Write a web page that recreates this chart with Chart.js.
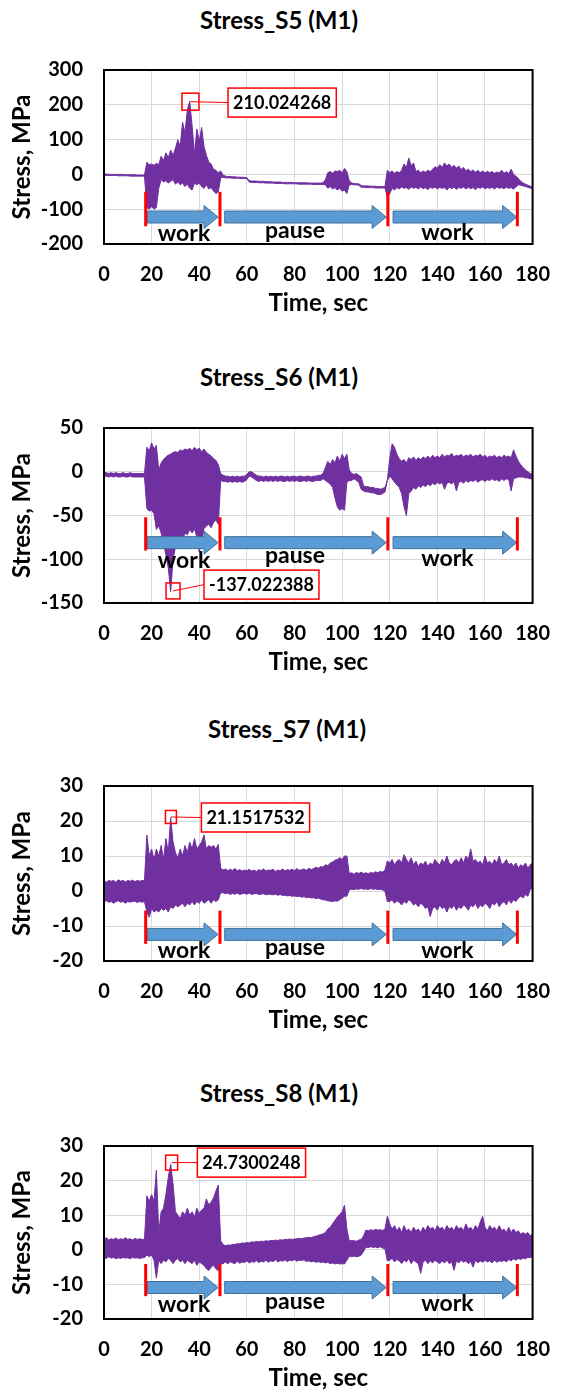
<!DOCTYPE html>
<html>
<head>
<meta charset="utf-8">
<title>Stress S5-S8 (M1)</title>
<script src="https://cdn.jsdelivr.net/npm/chart.js@4.4.0/dist/chart.umd.min.js"></script>
<style>
  html, body { margin: 0; padding: 0; background: #fff; }
  body { width: 569px; height: 1398px; position: relative; overflow: hidden; }
  canvas { position: absolute; left: 0; }
  .ttl { position: absolute; font: bold 24px Lato, sans-serif; color: #000;
         line-height: 1; white-space: nowrap; transform: translate(-50%, -50%); }
</style>
</head>
<body>
<div class="ttl" id="t1">Stress_S5 (M1)</div>
<div class="ttl" id="t2">Stress_S6 (M1)</div>
<div class="ttl" id="t3">Stress_S7 (M1)</div>
<div class="ttl" id="t4">Stress_S8 (M1)</div>
<canvas id="c1"></canvas>
<canvas id="c2"></canvas>
<canvas id="c3"></canvas>
<canvas id="c4"></canvas>
<script>
// sample times (sec), one per envelope value
const TIME = [
  0, 1, 2, 3, 4, 5, 6, 7, 8, 9,
  10, 11, 12, 13, 14, 15, 16, 17, 18, 19,
  20, 21, 22, 23, 24, 25, 26, 27, 28, 29,
  30, 31, 32, 33, 34, 35, 36, 37, 38, 39,
  40, 41, 42, 43, 44, 45, 46, 47, 48, 49,
  50, 51, 52, 53, 54, 55, 56, 57, 58, 59,
  60, 61, 62, 63, 64, 65, 66, 67, 68, 69,
  70, 71, 72, 73, 74, 75, 76, 77, 78, 79,
  80, 81, 82, 83, 84, 85, 86, 87, 88, 89,
  90, 91, 92, 93, 94, 95, 96, 97, 98, 99,
  100, 101, 102, 103, 104, 105, 106, 107, 108, 109,
  110, 111, 112, 113, 114, 115, 116, 117, 118, 119,
  120, 121, 122, 123, 124, 125, 126, 127, 128, 129,
  130, 131, 132, 133, 134, 135, 136, 137, 138, 139,
  140, 141, 142, 143, 144, 145, 146, 147, 148, 149,
  150, 151, 152, 153, 154, 155, 156, 157, 158, 159,
  160, 161, 162, 163, 164, 165, 166, 167, 168, 169,
  170, 171, 172, 173, 174, 175, 176, 177, 178, 179,
  180
];

// Stress_S5: upper / lower envelope of the signal, MPa
const S5_UPPER = [
  1, 1, 0, 0, 0, 0, 0, 0, 0, -1,
  -1, -1, -1, -1, -2, -2, -2, -2, 35, 28,
  30, 26, 32, 28, 52, 40, 62, 48, 70, 55,
  75, 100, 80, 150, 120, 185, 210, 140, 60, 130,
  95, 135, 80, 55, 35, 30, 15, 12, 5, 10,
  -2, -5, -6, -6, -7, -7, -8, -8, -8, -9,
  -9, -18, -19, -19, -19, -20, -20, -20, -21, -21,
  -21, -22, -22, -22, -22, -23, -23, -23, -23, -23,
  -24, -24, -24, -24, -24, -24, -25, -25, -25, -25,
  -25, -25, -24, -15, 5, 8, 3, 10, 8, 12,
  5, 17, 8, -18, -25, -26, -27, -27, -32, -33,
  -33, -33, -34, -34, -34, -35, -35, -35, -35, 12,
  5, 10, 3, 8, 5, 12, 30, 20, 47, 25,
  33, 8, 12, 5, 10, 6, 12, 8, 15, 22,
  18, 28, 20, 33, 24, 30, 20, 26, 18, 24,
  14, 20, 10, 15, 8, 13, 6, 12, 5, 10,
  4, 9, 5, 8, 3, 7, 4, 12, 3, 8,
  2, 15, 0, -5, -12, -20, -25, -28, -31, -34,
  -36
];
const S5_LOWER = [
  -3, -3, -3, -3, -3, -3, -4, -4, -4, -4,
  -4, -5, -5, -5, -5, -5, -5, -5, -95, -100,
  -92, -100, -95, -40, -15, -22, -18, -25, -20, -15,
  -28, -22, -30, -25, -35, -28, -40, -45, -25, -30,
  -25, -35, -40, -30, -42, -38, -48, -55, -50, -10,
  -8, -10, -10, -10, -11, -11, -11, -12, -12, -12,
  -12, -22, -23, -23, -23, -24, -24, -24, -25, -25,
  -25, -25, -26, -26, -26, -26, -27, -27, -27, -27,
  -27, -27, -28, -28, -28, -28, -28, -28, -29, -29,
  -29, -29, -29, -30, -40, -35, -42, -38, -45, -40,
  -48, -45, -55, -30, -29, -30, -30, -31, -37, -37,
  -38, -38, -38, -38, -39, -39, -39, -39, -39, -65,
  -55, -40, -45, -38, -42, -36, -40, -38, -43, -36,
  -40, -37, -42, -36, -41, -38, -44, -37, -40, -36,
  -42, -37, -40, -38, -45, -37, -41, -36, -43, -38,
  -40, -36, -42, -37, -41, -38, -44, -37, -40, -36,
  -41, -38, -40, -37, -42, -36, -40, -38, -41, -37,
  -40, -38, -42, -36, -30, -31, -33, -35, -37, -39,
  -42
];

// Stress_S6
const S6_UPPER = [
  -1, -1, -2, -1, -2, -1, -2, -2, -1, -2,
  -2, -1, -2, -2, -2, -2, -2, -2, 28, 24,
  33, 26, 30, 2, 10, 14, 17, 19, 20, 22,
  23, 22, 25, 24, 26, 25, 27, 24, 28, 25,
  27, 23, 26, 22, 20, 18, 15, 13, 8, -2,
  -4, -5, -5, -6, -5, -6, -5, -6, -5, -5,
  -3, 0, 0, -2, -4, -5, -5, -6, -5, -6,
  -5, -6, -5, -6, -5, -5, -6, -5, -6, -5,
  -5, -6, -5, -5, -6, -5, -5, -6, -5, -5,
  -4, -4, -2, 5, 12, 8, 14, 10, 18, 12,
  20, 15, 20, 2, -2, -3, -2, -4, -6, -16,
  -17, -17, -18, -18, -19, -19, -20, -19, -18, -10,
  15, 32, 28, 20, 15, 12, 14, 10, 16, 14,
  17, 13, 16, 14, 17, 15, 18, 15, 19, 16,
  18, 16, 20, 17, 19, 18, 21, 17, 19, 18,
  20, 17, 19, 18, 20, 17, 19, 18, 20, 17,
  19, 16, 18, 17, 19, 16, 18, 16, 19, 17,
  18, 16, 25, 18, 12, 8, 5, 2, 0, -2,
  -3
];
const S6_LOWER = [
  -5, -5, -6, -5, -6, -5, -6, -6, -5, -6,
  -6, -5, -6, -6, -6, -6, -6, -6, -42, -45,
  -44, -48, -66, -62, -70, -82, -95, -110, -137, -100,
  -86, -80, -75, -78, -70, -72, -66, -70, -65, -75,
  -92, -80, -65, -62, -60, -64, -58, -55, -60, -10,
  -11, -11, -12, -11, -12, -11, -12, -11, -12, -11,
  -9, -5, -6, -8, -10, -11, -10, -11, -10, -11,
  -10, -11, -10, -11, -10, -11, -11, -10, -11, -10,
  -11, -10, -11, -11, -10, -11, -10, -11, -11, -10,
  -10, -10, -8, -10, -12, -14, -18, -30, -40, -44,
  -42, -44, -12, -10, -10, -8, -10, -12, -20, -22,
  -23, -23, -24, -24, -25, -26, -26, -25, -23, -10,
  -5, -8, -12, -15, -18, -25, -40, -50, -25, -22,
  -18, -20, -16, -18, -15, -17, -14, -16, -13, -15,
  -12, -14, -12, -20, -13, -12, -14, -11, -22, -12,
  -11, -13, -10, -12, -10, -11, -9, -12, -10, -9,
  -11, -9, -10, -8, -10, -9, -11, -8, -10, -8,
  -9, -22, -8, -7, -6, -6, -6, -7, -7, -8,
  -8
];

// Stress_S7
const S7_UPPER = [
  3, 2.5, 3, 2.8, 3, 2.5, 3.2, 2.8, 3, 2.6,
  3, 2.8, 3.1, 2.7, 3, 2.8, 3, 2.9, 16, 10,
  12, 9, 12, 10, 13, 9, 15, 11, 21, 14,
  11, 9.5, 12, 10, 13, 11, 14, 12, 15, 12,
  13, 14, 16, 12, 13, 12.5, 13, 12, 13.3, 6.5,
  6, 6.3, 5.8, 6.2, 5.9, 6.4, 5.8, 6.1, 5.7, 6,
  5.8, 6.2, 5.7, 6, 5.6, 6.1, 5.8, 6.3, 5.7, 6,
  5.9, 6.2, 5.6, 6, 5.8, 6.3, 5.7, 6.1, 5.9, 6.2,
  5.8, 6.4, 5.9, 6.1, 6.3, 5.9, 6.5, 6.1, 6.4, 6.8,
  6.5, 7, 6.8, 7.5, 7.2, 8, 8.3, 8.8, 9, 9.5,
  9, 10, 10, 5, 5.2, 4.8, 5.3, 5, 5.4, 5,
  5.2, 4.9, 5.3, 5.1, 5.5, 5.2, 5.6, 5.4, 6, 8.6,
  8, 9, 7.5, 8.5, 9, 8, 10.4, 9, 8, 9.5,
  7.5, 8.5, 7, 8, 7.5, 8.5, 7, 8, 7.5, 9,
  8, 7.5, 9, 8, 10, 8, 7.5, 8.5, 9, 8,
  9.5, 8, 10, 9, 12, 8.5, 9, 8, 8.5, 7.5,
  10, 8, 8.5, 7.5, 9, 8, 10, 7.5, 8, 9,
  7.5, 8, 7, 8, 6.5, 7.5, 7, 8, 6.5, 7.5,
  8
];
const S7_LOWER = [
  -3, -2.8, -3.2, -3, -3.5, -3, -2.8, -3.2, -3, -3.5,
  -3, -3.2, -3, -2.9, -3.3, -3, -3.2, -3, -6, -7.5,
  -5, -6, -5.5, -6, -5, -5.5, -5, -6, -4.5, -5,
  -4, -4.5, -4, -3.5, -4.5, -3.5, -4, -3, -4, -3,
  -3.5, -2.5, -3.5, -3, -2.5, -3.5, -2.5, -3, -2.5, -0.5,
  -0.5, -0.8, -0.6, -1, -0.7, -0.9, -0.6, -1, -0.8, -0.7,
  -0.9, -0.6, -1, -0.8, -0.7, -1, -0.9, -0.8, -1.1, -0.9,
  -1, -1.1, -0.9, -1.2, -1, -1.3, -1.2, -1.4, -1.3, -1.5,
  -1.4, -1.6, -1.5, -1.8, -1.6, -1.9, -1.8, -2, -1.9, -2.2,
  -2, -2.3, -2.5, -2.6, -2.8, -2.9, -3, -2.8, -2.9, -2.5,
  -2, -1.5, -1.5, 0.3, 0.5, 0.4, 0.6, 0.5, 0.7, 0.5,
  0.6, 0.4, 0.7, 0.5, 0.6, 0.4, 0.5, 0.3, 0, -3,
  -3, -2.5, -3.5, -2.8, -3.2, -4, -3, -3.5, -2.5, -3,
  -4, -3.5, -4.5, -3.5, -4, -5, -4.5, -7.3, -5, -4.5,
  -5.5, -4, -5, -4.5, -6, -4.5, -5, -4, -5.5, -4.5,
  -5, -4, -4.5, -5.5, -4, -4.5, -3.5, -5, -4, -4.5,
  -3.5, -4, -5, -3.5, -4, -3, -4.5, -3.5, -3, -4,
  -2.5, -3.5, -2.5, -3, -2, -1.5, -2, -1, -1.5, 0.5,
  0.8
];

// Stress_S8
const S8_UPPER = [
  3, 3.5, 2.8, 3.2, 3, 3.4, 2.9, 3.2, 3, 3.5,
  3, 3.2, 2.8, 3.3, 3, 3.2, 3, 3, 15.6, 14,
  16, 14, 23, 4.8, 11, 12, 16, 21, 24.7, 19,
  11, 10, 9, 11, 10, 12, 10, 11, 9.5, 12,
  10.5, 11.5, 12, 14.7, 13, 13.8, 15, 17, 18.7, 2.6,
  1.5, 1.2, 1.4, 1.3, 1.6, 1.5, 1.8, 1.7, 2, 1.9,
  2.1, 2, 2.3, 2.2, 2.4, 2.3, 2.5, 2.4, 2.6, 2.5,
  2.7, 2.6, 2.8, 2.7, 2.9, 2.8, 3, 3, 3.1, 3,
  3.1, 3.2, 3.3, 3.2, 3.4, 3.5, 3.6, 3.5, 3.8, 3.9,
  4.2, 4.4, 4.6, 5, 6, 6.5, 7.5, 8.5, 9.5, 10.2,
  11, 12.9, 6, 2.6, 2.7, 2.6, 2.5, 2.8, 3, 4,
  5.7, 5.5, 5.8, 5.6, 5.9, 5.7, 5.8, 5.6, 6, 9.7,
  7.5, 6, 7, 5.5, 6.5, 5, 7, 5.5, 6, 5,
  6.5, 5.5, 6, 5, 6.5, 5.5, 7, 6, 6.5, 5.5,
  7, 6, 6.5, 5.5, 7, 6, 6.5, 5.5, 7, 6,
  6.5, 5.5, 7.5, 6, 6.5, 5.5, 7, 6, 8, 9.7,
  6.5, 5.5, 7, 6, 6.5, 5.5, 7, 5.5, 6, 5,
  6.5, 5, 6, 5, 5.5, 4.5, 5, 4.5, 5, 4,
  4.8
];
const S8_LOWER = [
  -2.3, -2.5, -2, -2.4, -2.2, -2.6, -2.3, -2.5, -2.2, -2.4,
  -2.3, -2.6, -2.2, -2.4, -2.3, -2.5, -2.3, -2.3, -1.5, -2,
  -1.5, -3, -8.2, -3, -4, -3, -3.5, -2.5, -3, -4,
  -3, -2.5, -3.5, -3, -4, -3, -3.5, -4, -3, -4.5,
  -3.5, -4, -4.5, -5.5, -6, -5, -4.5, -5.5, -6, -4,
  -4, -3.5, -4.1, -3.4, -3.8, -4, -3.3, -3.9, -3.5, -3.7,
  -3.2, -3.8, -3.4, -3.6, -3.1, -3.7, -3.3, -3.5, -3, -3.6,
  -3.2, -3.4, -2.9, -3.5, -3.1, -3.3, -2.9, -3.4, -3, -3.2,
  -2.8, -3.3, -3, -3.1, -2.9, -3.4, -3.2, -3.5, -3.3, -3.6,
  -3.4, -3.7, -3.5, -3.8, -3.6, -4, -3.8, -4.1, -3.9, -4.1,
  -4, -4.1, -3, -1.9, -2, -1.8, -2, -1.9, -1.5, -0.5,
  0.8, 0.6, 0.9, 0.7, 0.8, 0.6, 0.9, 0.5, 0.3, -3.2,
  -3, -2.5, -3.5, -2.8, -3.2, -4, -3, -3.5, -2.5, -4,
  -3, -3.5, -4, -6.8, -3.5, -3, -4, -3.2, -3.8, -3,
  -3.5, -4, -3.2, -3.8, -3, -4, -3.5, -5.9, -3.2, -3.8,
  -3, -3.6, -3.2, -4, -3.4, -5, -3, -3.8, -3.2, -3.6,
  -3, -3.5, -3.2, -3.8, -3, -3.6, -3.2, -3.4, -3, -3.5,
  -2.8, -3.2, -2.6, -3, -2.5, -2.8, -2.4, -2.6, -2.2, -2.3,
  -1.9
];

// x tick step and range
const X_MIN = 0, X_MAX = 180, X_STEP = 20;

// work / pause phases (sec)
const PHASE_MARKS = [17.5, 48.7, 119.2, 173.6];
const ARROW_SPANS = [[18.2, 47.9], [50.7, 118.5], [121.4, 173.3]];
const PHASE_NAMES = ['work', 'pause', 'work'];
const PHASE_NAME_X = [33.6, 80.2, 144.2];

const PURPLE = '#7030A0';

Chart.defaults.font.family = 'Lato, sans-serif';
Chart.defaults.color = '#000';

// one entry per panel; canvas/plot rows are in page pixels
const PANELS = [
  { id: 'c1', title: 't1', titleX: 279, titleY: 19.5, plotTop: 57, plotBottom: 244,
    upper: S5_UPPER, lower: S5_LOWER, min: -200, max: 300, step: 100,
    mark: [-50, -149], arrowY: -122.5, nameY: [-169.5, -160, -168],
    peak: [36.3, 209], box: [52.1, 206.4], sq: [17, 17], peakText: '210.024268' },
  { id: 'c2', title: 't2', titleX: 279, titleY: 377, plotTop: 415, plotBottom: 603,
    upper: S6_UPPER, lower: S6_LOWER, min: -150, max: 50, step: 50,
    mark: [-52, -90], arrowY: -81, nameY: [-102, -95.4, -99],
    peak: [29, -136.2], box: [42, -129], sq: [14, 16], peakText: '-137.022388' },
  { id: 'c3', title: 't3', titleX: 287, titleY: 729, plotTop: 773, plotBottom: 961,
    upper: S7_UPPER, lower: S7_LOWER, min: -20, max: 30, step: 10,
    mark: [-5.6, -15.1], arrowY: -12.4, nameY: [-17.1, -16.2, -16.9],
    peak: [28.1, 21.15], box: [40.9, 21.0], sq: [11, 13], peakText: '21.1517532' },
  { id: 'c4', title: 't4', titleX: 279, titleY: 1093, plotTop: 1133, plotBottom: 1319,
    upper: S8_UPPER, lower: S8_LOWER, min: -20, max: 30, step: 10,
    mark: [-4.1, -13.4], arrowY: -10.9, nameY: [-15.8, -14.9, -15.6],
    peak: [28.4, 25.2], box: [39.2, 25.2], sq: [12, 15], peakText: '24.7300248' }
];

const X_AXIS_H = 79;

function drawArrow(ctx, x0, x1, y) {
  const body = 6, head = 11.5, headLen = 14;
  ctx.beginPath();
  ctx.moveTo(x0, y - body);
  ctx.lineTo(x1 - headLen, y - body);
  ctx.lineTo(x1 - headLen, y - head);
  ctx.lineTo(x1, y);
  ctx.lineTo(x1 - headLen, y + head);
  ctx.lineTo(x1 - headLen, y + body);
  ctx.lineTo(x0, y + body);
  ctx.closePath();
  ctx.fillStyle = '#5B9BD5';
  ctx.fill();
  ctx.strokeStyle = '#41719C';
  ctx.lineWidth = 1;
  ctx.stroke();
}

// arrows, phase marks, peak callout and plot frame
function notesPlugin(p) {
  return {
    id: 'notes',
    afterDatasetsDraw(chart) {
      const { ctx, scales: { x, y } } = chart;
      ctx.save();
      ARROW_SPANS.forEach(([a, b]) => {
        drawArrow(ctx, x.getPixelForValue(a), x.getPixelForValue(b), y.getPixelForValue(p.arrowY));
      });
      ctx.strokeStyle = '#FF0000';
      ctx.lineWidth = 3;
      PHASE_MARKS.forEach(t => {
        const px = x.getPixelForValue(t);
        ctx.beginPath();
        ctx.moveTo(px, y.getPixelForValue(p.mark[0]));
        ctx.lineTo(px, y.getPixelForValue(p.mark[1]));
        ctx.stroke();
      });
      ctx.fillStyle = '#000';
      ctx.font = 'bold 23px Lato, sans-serif';
      ctx.textAlign = 'center';
      ctx.textBaseline = 'middle';
      PHASE_NAMES.forEach((name, i) => {
        ctx.fillText(name, x.getPixelForValue(PHASE_NAME_X[i]), y.getPixelForValue(p.nameY[i]));
      });

      // peak callout
      const px = x.getPixelForValue(p.peak[0]);
      const py = y.getPixelForValue(p.peak[1]);
      ctx.font = 'bold 18px Lato, sans-serif';
      const tw = ctx.measureText(p.peakText).width;
      const bx = x.getPixelForValue(p.box[0]);
      const by = y.getPixelForValue(p.box[1]);
      const bw = tw + 10, bh = 29;
      ctx.strokeStyle = '#FF0000';
      ctx.lineWidth = 1;
      ctx.beginPath();
      ctx.moveTo(px, py);
      ctx.lineTo(bx, by);
      ctx.stroke();
      ctx.lineWidth = 1.5;
      ctx.strokeRect(px - p.sq[0] / 2, py - p.sq[1] / 2, p.sq[0], p.sq[1]);
      ctx.fillStyle = '#fff';
      ctx.fillRect(bx, by - bh / 2, bw, bh);
      ctx.strokeRect(bx, by - bh / 2, bw, bh);
      ctx.fillStyle = '#000';
      ctx.textAlign = 'left';
      ctx.fillText(p.peakText, bx + 5, by + 1);
      ctx.restore();
    },
    afterDraw(chart) {
      const { ctx, chartArea: a } = chart;
      ctx.save();
      ctx.strokeStyle = '#000';
      ctx.lineWidth = 2;
      ctx.strokeRect(a.left, a.top, a.right - a.left, a.bottom - a.top);
      ctx.restore();
    }
  };
}

function makePanel(p) {
  const title = document.getElementById(p.title);
  title.style.left = p.titleX + 'px';
  title.style.top = p.titleY + 'px';

  const canvasTop = p.plotTop - 20;
  const canvas = document.getElementById(p.id);
  canvas.width = 569;
  canvas.height = p.plotBottom - canvasTop + X_AXIS_H;
  canvas.style.top = canvasTop + 'px';
  canvas.style.width = '569px';
  canvas.style.height = canvas.height + 'px';

  const tickFont = { size: 20, weight: 'bold' };
  const titleFont = { size: 24, weight: 'bold' };
  const grid = { color: '#D9D9D9', lineWidth: 1, drawTicks: false };

  new Chart(canvas.getContext('2d'), {
    type: 'line',
    data: {
      datasets: [
        {
          data: TIME.map((t, i) => ({ x: t, y: p.upper[i] })),
          borderColor: PURPLE, backgroundColor: PURPLE,
          borderWidth: 1, pointRadius: 0, tension: 0, fill: '+1'
        },
        {
          data: TIME.map((t, i) => ({ x: t, y: p.lower[i] })),
          borderColor: PURPLE, backgroundColor: PURPLE,
          borderWidth: 1, pointRadius: 0, tension: 0, fill: false
        }
      ]
    },
    options: {
      responsive: false,
      animation: false,
      events: [],
      layout: { padding: { top: 20, right: 32, bottom: 0, left: 0 } },
      plugins: { legend: { display: false }, tooltip: { enabled: false }, title: { display: false } },
      scales: {
        x: {
          type: 'linear', min: X_MIN, max: X_MAX,
          ticks: { stepSize: X_STEP, padding: 19, font: tickFont, color: '#000', maxRotation: 0 },
          grid: grid,
          border: { display: false },
          title: { display: true, text: 'Time, sec', font: titleFont, color: '#000', padding: { top: 0, bottom: 5.2 } },
          afterFit(s) { s.height = X_AXIS_H; }
        },
        y: {
          min: p.min, max: p.max,
          ticks: { stepSize: p.step, padding: 21, font: tickFont, color: '#000' },
          grid: grid,
          border: { display: false },
          title: { display: true, text: 'Stress, MPa', font: titleFont, color: '#000', padding: { top: 8, bottom: 0 } },
          afterFit(s) { s.width = 104; }
        }
      }
    },
    plugins: [notesPlugin(p)]
  });
}

PANELS.forEach(makePanel);
</script>
</body>
</html>
